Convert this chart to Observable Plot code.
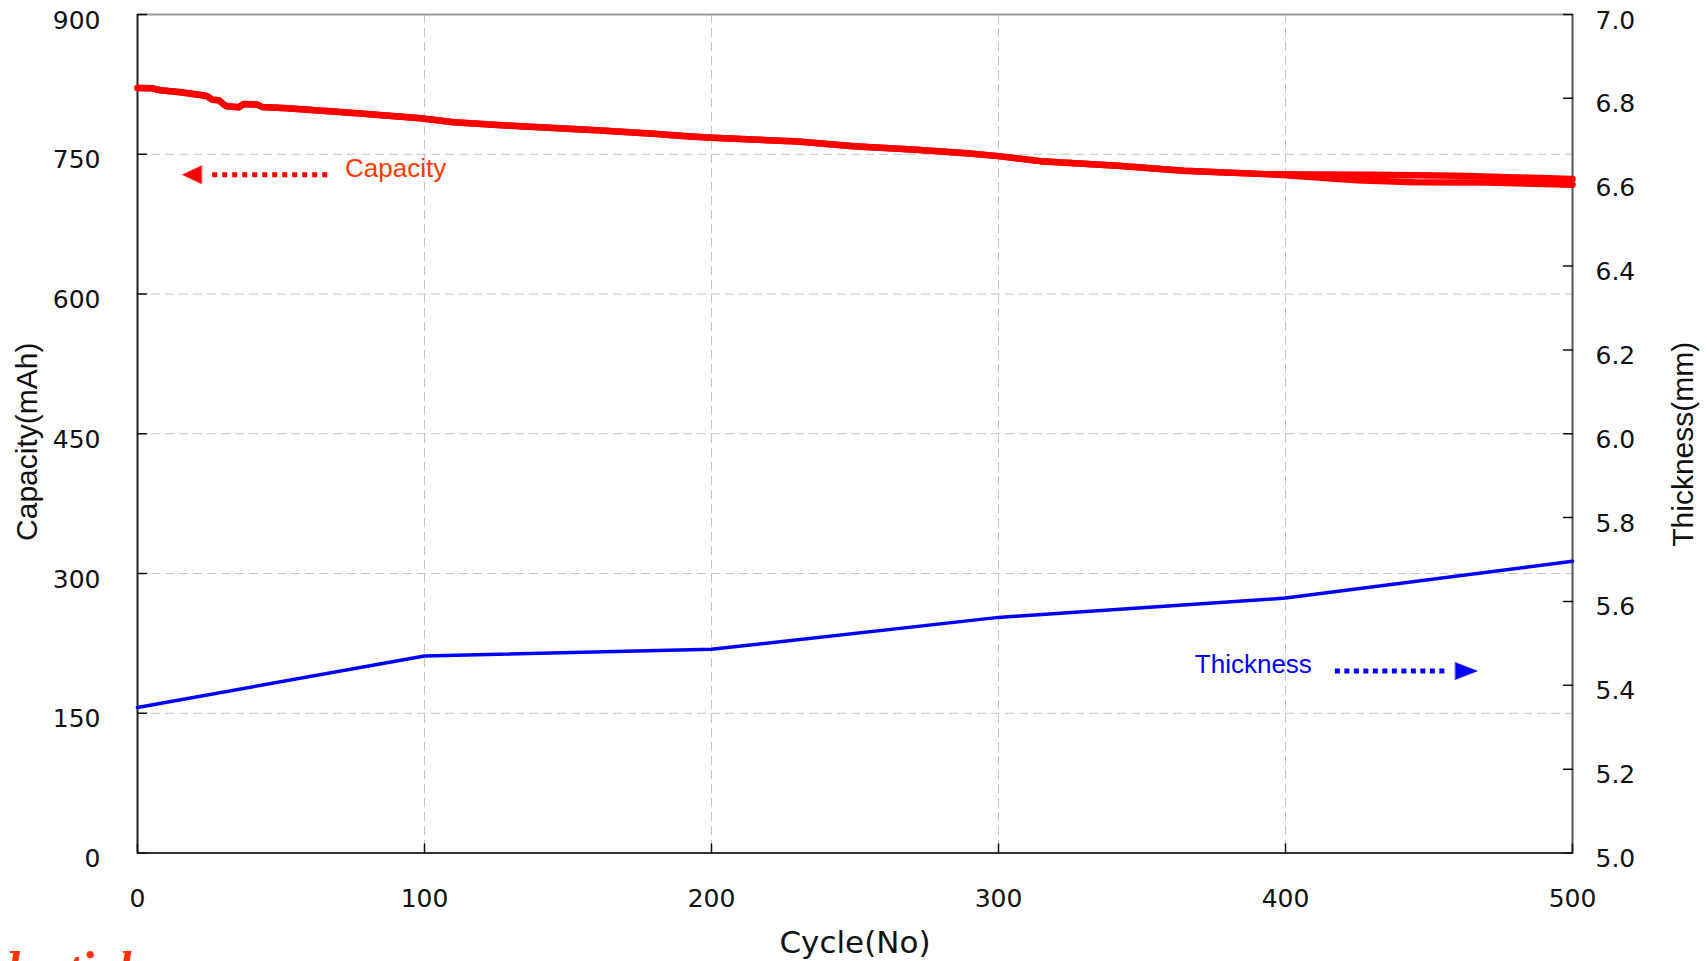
<!DOCTYPE html>
<html>
<head>
<meta charset="utf-8">
<script src="https://cdn.jsdelivr.net/npm/d3@7"></script>
<script src="https://cdn.jsdelivr.net/npm/@observablehq/plot@0.6"></script>
<style>
  html, body { margin: 0; padding: 0; background: #fff; overflow: hidden; }
</style>
</head>
<body>
<div id="chart"></div>
<script>
// ---- data ----
const capCyclesCommon = [0, 5, 8, 15, 22, 24.3, 26, 28.3, 30.1, 31.2, 35.3, 37, 41.7, 43.4, 52.2, 75.4, 98.6, 110.2, 133.4, 160, 179.8, 190, 200.3, 230, 249.5, 270, 289, 300, 314.6, 341.5, 364.5, 395];
const capValuesCommon = [821.2, 820.8, 818.7, 816.5, 813.6, 812.2, 808.6, 807.9, 803.3, 801.5, 800.4, 804.0, 803.3, 800.8, 799.3, 794.3, 788.6, 784.3, 780.0, 775.8, 772.1, 769.6, 767.6, 763.8, 758.6, 755.0, 751.0, 748.0, 742.6, 737.7, 732.2, 728.4];
const capCyclesTailA = [430, 460, 500];
const capValuesTailA = [728.0, 727.0, 723.4];
const capCyclesTailB = [425, 445, 470, 500];
const capValuesTailB = [722.0, 720.0, 719.8, 717.3];

const thkCycles = [0, 100, 200, 300, 400, 500];
const thkValues = [5.347, 5.470, 5.486, 5.562, 5.608, 5.696];

const cycleTicks = [0, 100, 200, 300, 400, 500];
const capTicks = [0, 150, 300, 450, 600, 750, 900];
const thkTicks = [5.0, 5.2, 5.4, 5.6, 5.8, 6.0, 6.2, 6.4, 6.6, 6.8, 7.0];
const capGrid = [150, 300, 450, 600, 750];
const cycleGrid = [100, 200, 300, 400];

// annotation anchors (data units)
const capNote = [{cycle: 72.3, value: 734.5, text: "Capacity"}];
const capArrowDots = [{from: 66.1, to: 26, value: 728}];
const capArrowHead = [{cycle: 22.3, value: 728}];
const thkNote = [{cycle: 368.4, thickness: 5.449, text: "Thickness"}];
const thkArrowDots = [{from: 417.2, to: 456.3, thickness: 5.434}];
const thkArrowHead = [{cycle: 459.2, thickness: 5.434}];

// ---- build tables ----
const capA = capCyclesCommon.map((c, i) => ({cycle: c, value: capValuesCommon[i]}))
  .concat(capCyclesTailA.map((c, i) => ({cycle: c, value: capValuesTailA[i]})));
const capB = capCyclesCommon.map((c, i) => ({cycle: c, value: capValuesCommon[i]}))
  .concat(capCyclesTailB.map((c, i) => ({cycle: c, value: capValuesTailB[i]})));
const thk = thkCycles.map((c, i) => ({cycle: c, t: thkValues[i]}));

// thickness (5.0..7.0 mm) shares the capacity scale (0..900 mAh)
const t2c = t => (t - 5) * 450;

const tickShape = {draw(ctx, l) { ctx.moveTo(0, 0); ctx.lineTo(0, -l); }};
const headShape = {draw(ctx, l, r) { ctx.moveTo(-r, 0); ctx.lineTo(0, -l); ctx.lineTo(r, 0); ctx.closePath(); }};

const tickFont = {fontFamily: "DejaVu Sans", fontSize: 25, fill: "#111"};

const chart = Plot.plot({
  width: 1707,
  height: 961,
  marginLeft: 137,
  marginRight: 135,
  marginTop: 14,
  marginBottom: 108.5,
  x: {domain: [0, 500], axis: null},
  y: {domain: [0, 900], axis: null},
  style: {background: "#fff"},
  marks: [
    // grid
    Plot.gridY(capGrid, {stroke: "#c4c4c4", strokeOpacity: 1, strokeWidth: 1, strokeDasharray: "9,5"}),
    Plot.gridX(cycleGrid, {stroke: "#c4c4c4", strokeOpacity: 1, strokeWidth: 1, strokeDasharray: "9,5"}),
    // frame
    Plot.ruleY([900], {stroke: "#9a9a9a", strokeWidth: 2}),
    Plot.ruleX([500], {stroke: "#555", strokeWidth: 2}),
    Plot.ruleX([0], {stroke: "#222", strokeWidth: 2}),
    Plot.ruleY([0], {stroke: "#333", strokeWidth: 2}),
    // inward ticks
    Plot.vector(capTicks, {y: d => d, frameAnchor: "left", length: 9, rotate: 90, anchor: "start", shape: tickShape, stroke: "#111", strokeWidth: 1.5}),
    Plot.vector(thkTicks, {y: d => t2c(d), frameAnchor: "right", length: 9, rotate: -90, anchor: "start", shape: tickShape, stroke: "#111", strokeWidth: 1.5}),
    Plot.vector(cycleTicks, {x: d => d, frameAnchor: "bottom", length: 9, rotate: 0, anchor: "start", shape: tickShape, stroke: "#111", strokeWidth: 1.5}),
    // tick labels
    Plot.text(capTicks, {y: d => d, frameAnchor: "left", dx: -37, dy: 6, textAnchor: "end", text: d => String(d), ...tickFont}),
    Plot.text(thkTicks, {y: d => t2c(d), frameAnchor: "right", dx: 23, dy: 6, textAnchor: "start", text: d => d.toFixed(1), ...tickFont}),
    Plot.text(cycleTicks, {x: d => d, frameAnchor: "bottom", dy: 45.5, lineAnchor: "middle", textAnchor: "middle", text: d => String(d), ...tickFont}),
    // axis titles
    Plot.text(["Capacity(mAh)"], {frameAnchor: "left", dx: -110, dy: 8, rotate: -90, textAnchor: "middle", lineAnchor: "middle", fontFamily: "Liberation Sans", fontSize: 30, letterSpacing: "0.6px", fill: "#111"}),
    Plot.text(["Thickness(mm)"], {frameAnchor: "right", dx: 111, dy: 10.5, rotate: -90, textAnchor: "middle", lineAnchor: "middle", fontFamily: "Liberation Sans", fontSize: 30, letterSpacing: "0.6px", fill: "#111"}),
    Plot.text(["Cycle(No)"], {frameAnchor: "bottom", dy: 90.5, lineAnchor: "middle", textAnchor: "middle", fontFamily: "DejaVu Sans", fontSize: 31, fill: "#111"}),
    // series
    Plot.line(thk, {x: "cycle", y: d => t2c(d.t), stroke: "#0000ff", strokeWidth: 3.5, strokeLinejoin: "round"}),
    Plot.line(capB, {x: "cycle", y: "value", stroke: "#ff0000", strokeWidth: 6.5, strokeLinejoin: "round"}),
    Plot.line(capA, {x: "cycle", y: "value", stroke: "#ff0000", strokeWidth: 6.5, strokeLinejoin: "round"}),
    // annotations
    Plot.link(capArrowDots, {x1: "from", x2: "to", y1: "value", y2: "value", stroke: "#ff0000", strokeWidth: 5, strokeDasharray: "5,5"}),
    Plot.vector(capArrowHead, {x: "cycle", y: "value", rotate: -90, length: 19, r: 9, anchor: "start", shape: headShape, fill: "#ff0000", stroke: "#ff0000", strokeWidth: 0.5}),
    Plot.text(capNote, {x: "cycle", y: "value", text: "text", textAnchor: "start", lineAnchor: "middle", fontFamily: "Liberation Sans", fontSize: 26, fill: "#ff3a00"}),
    Plot.link(thkArrowDots, {x1: "from", x2: "to", y1: d => t2c(d.thickness), y2: d => t2c(d.thickness), stroke: "#0000ff", strokeWidth: 5, strokeDasharray: "5,4.5"}),
    Plot.vector(thkArrowHead, {x: "cycle", y: d => t2c(d.thickness), rotate: 90, length: 22, r: 8.5, anchor: "start", shape: headShape, fill: "#0000ff", stroke: "#0000ff", strokeWidth: 0.5}),
    Plot.text(thkNote, {x: "cycle", y: d => t2c(d.thickness), text: "text", textAnchor: "start", lineAnchor: "middle", fontFamily: "Liberation Sans", fontSize: 26, fill: "#0000ff"}),
    // cropped watermark at the bottom edge (cut off in the reference as well)
    Plot.text(["Confidential"], {frameAnchor: "bottom-left", dx: -254, dy: 131.5, lineAnchor: "bottom", textAnchor: "start", fontFamily: "Liberation Serif", fontStyle: "italic", fontWeight: "bold", fontSize: 48, fill: "#ff3300"})
  ]
});
document.getElementById("chart").appendChild(chart);
</script>
</body>
</html>
